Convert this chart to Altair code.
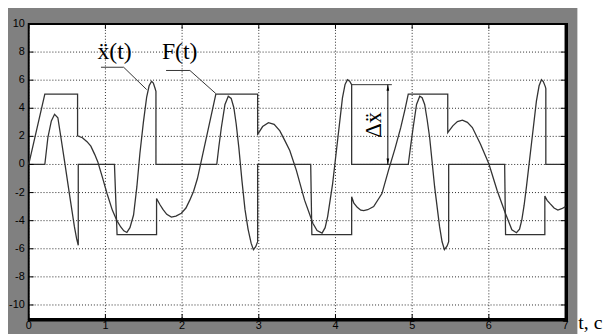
import altair as alt
import pandas as pd

# ---- data (t in s, value) ----
# trace A: starts with the force ramp, plateau, then the response pieces
tA = [0, 0.21, 0.637, 0.637, 0.70, 0.76, 0.81, 0.86, 0.90, 0.96, 1.02, 1.09, 1.15, 1.20, 1.24, 1.28,
      1.32, 1.367, 1.41, 1.45, 1.495, 1.538, 1.57, 1.602, 1.625, 1.646, 1.659, 1.659,
      2.452, 2.48, 2.512, 2.559, 2.602, 2.64, 2.675, 2.705, 2.74, 2.78, 2.82, 2.86, 2.90, 2.93, 2.96, 2.985, 2.985,
      3.677, 3.692, 4.211, 4.211, 4.24, 4.284, 4.33, 4.369, 4.42, 4.498, 4.606, 4.691, 4.777, 4.85, 4.906, 4.949,
      5.464, 5.464, 5.53, 5.59, 5.655, 5.72, 5.785, 5.89, 6.0, 6.107, 6.215, 6.30, 6.36, 6.40, 6.43, 6.46, 6.49,
      6.555, 6.62, 6.655, 6.686, 6.71, 6.735, 6.743, 6.743, 7.0]
vA = [0, 5.0, 5.0, 2.04, 1.90, 1.62, 1.30, 0.72, 0.20, -0.90, -2.05, -3.25, -4.0, -4.45, -4.72, -4.84,
      -4.5, -3.6, -1.6, 0.8, 3.0, 4.8, 5.6, 5.92, 5.8, 5.44, 5.2, 0,
      0, 1.3, 2.63, 4.27, 4.86, 4.7, 4.04, 2.9, 1.2, -1.13, -3.2, -4.6, -5.6, -6.06, -5.85, -5.5, 0,
      0, -5.0, -5.0, -2.30, -2.75, -3.05, -3.25, -3.29, -3.22, -3.0, -2.07, -0.42, 1.15, 2.6, 3.9, 5.0,
      5.0, 2.27, 2.75, 3.05, 3.15, 3.0, 2.63, 1.46, 0.05, -1.83, -3.47, -4.65, -4.86, -4.6, -3.94, -2.9, -1.6,
      1.46, 4.51, 5.6, 6.03, 5.9, 5.56, 5.4, 0, 0]

# trace B
tB = [0, 0.21, 0.25, 0.295, 0.337, 0.38, 0.42, 0.466, 0.53, 0.595, 0.625, 0.646, 0.646,
      1.118, 1.152, 1.667, 1.667, 1.71, 1.75, 1.80, 1.86, 1.92, 1.99, 2.05, 2.10, 2.15, 2.20, 2.32, 2.44,
      2.985, 2.985, 3.0, 3.05, 3.126, 3.20, 3.275, 3.34, 3.404, 3.49, 3.597, 3.705, 3.76, 3.825, 3.865, 3.898,
      3.963, 4.027, 4.091, 4.125, 4.156, 4.185, 4.211, 4.211,
      4.949, 4.98, 5.013, 5.057, 5.099, 5.13, 5.163, 5.195, 5.228, 5.293, 5.357, 5.39, 5.421, 5.456, 5.476, 5.476,
      6.206, 6.218, 6.73, 6.73, 6.76, 6.795, 6.85, 6.90, 6.95, 7.0]
vB = [0, 0, 1.92, 3.1, 3.57, 3.33, 1.92, 0.28, -2.07, -4.41, -5.3, -5.75, 0,
      0, -5.0, -5.0, -2.42, -2.85, -3.2, -3.55, -3.74, -3.68, -3.47, -3.1, -2.54, -1.9, -1.0, 2.0, 5.0,
      5.0, 2.16, 2.27, 2.7, 2.98, 2.85, 2.39, 1.7, 0.99, -0.42, -2.54, -4.18, -4.7, -4.88, -4.5, -3.71,
      -1.36, 1.69, 4.74, 5.7, 6.03, 5.92, 5.68, 0,
      0, 1.3, 2.63, 4.27, 4.86, 4.75, 4.27, 3.2, 1.92, -1.6, -4.41, -5.5, -6.06, -5.8, -5.5, 0,
      0, -5.0, -5.0, -2.25, -2.55, -2.77, -3.1, -3.24, -3.15, -3.0]

# annotation leaders (label underline + pointer)
lead_x_t = [0.942, 1.238, 1.538]
lead_x_v = [6.92, 6.92, 5.33]
lead_f_t = [1.791, 2.102, 2.439]
lead_f_v = [6.69, 6.69, 5.05]
# delta-x annotation
delta_line_t = [4.211, 4.735]
delta_line_v = [5.68, 5.68]
arrow_t = 4.683
arrow_v = [0.0, 5.68]

labels = ["x\u0308(t)", "F(t)"]
labels_t = [1.12, 1.968]
labels_v = [7.5, 7.5]

x_ticks = [0, 1, 2, 3, 4, 5, 6, 7]
y_ticks = [-10, -8, -6, -4, -2, 0, 2, 4, 6, 8, 10]

W, H = 544, 299
LINE = "#333333"

xs = alt.Scale(domain=[0, 7], nice=False, zero=False)
ys = alt.Scale(domain=[-11, 10], nice=False, zero=False)


def df_line(t, v):
    return pd.DataFrame({"t": t, "v": v, "i": list(range(len(t)))})


X = alt.X("t:Q", scale=xs, axis=None)
Y = alt.Y("v:Q", scale=ys, axis=None)
Xn = alt.X("t:Q", axis=None)
Yn = alt.Y("v:Q", axis=None)

yt = pd.DataFrame({"v": y_ticks, "lab": [str(v) for v in y_ticks]})
xt = pd.DataFrame({"t": x_ticks, "lab": [str(v) for v in x_ticks]})

# dotted grid drawn from the tick values through the scales
grid_y = alt.Chart(yt).mark_rule(color="#000", strokeWidth=1, strokeDash=[1, 2], opacity=0.85).encode(
    y=Y, x=alt.value(0), x2=alt.value(W))
grid_x = alt.Chart(xt).mark_rule(color="#000", strokeWidth=1, strokeDash=[1, 2], opacity=0.85).encode(
    x=X, y=alt.value(0), y2=alt.value(H))

traceA = alt.Chart(df_line(tA, vA)).mark_line(color=LINE, strokeWidth=1.3).encode(
    x=Xn, y=Yn, order="i:Q")
traceB = alt.Chart(df_line(tB, vB)).mark_line(color=LINE, strokeWidth=1.3).encode(
    x=Xn, y=Yn, order="i:Q")

leadX = alt.Chart(df_line(lead_x_t, lead_x_v)).mark_line(color=LINE, strokeWidth=1).encode(
    x=Xn, y=Yn, order="i:Q")
leadF = alt.Chart(df_line(lead_f_t, lead_f_v)).mark_line(color=LINE, strokeWidth=1).encode(
    x=Xn, y=Yn, order="i:Q")
dline = alt.Chart(df_line(delta_line_t, delta_line_v)).mark_line(color=LINE, strokeWidth=1).encode(
    x=Xn, y=Yn, order="i:Q")
arrow = alt.Chart(pd.DataFrame({"t": [arrow_t], "v": [arrow_v[0]], "v2": [arrow_v[1]]})).mark_rule(
    color="#000", strokeWidth=1).encode(x=Xn, y=Yn, y2="v2:Q")
head_up = alt.Chart(pd.DataFrame({"t": [arrow_t], "v": [arrow_v[1] - 0.22]})).mark_point(
    shape="M0,-1L0.45,1L-0.45,1Z", filled=True, size=36, color="#000", opacity=1).encode(x=Xn, y=Yn)
head_dn = alt.Chart(pd.DataFrame({"t": [arrow_t], "v": [arrow_v[0] + 0.22]})).mark_point(
    shape="M0,1L0.45,-1L-0.45,-1Z", filled=True, size=36, color="#000", opacity=1).encode(x=Xn, y=Yn)

txt = alt.Chart(pd.DataFrame({"t": labels_t, "v": labels_v, "s": labels})).mark_text(
    font="Liberation Serif", fontSize=24, color="#000", align="center", baseline="alphabetic").encode(
    x=Xn, y=Yn, text="s:N")
dtxt = alt.Chart(pd.DataFrame({"t": [4.507], "v": [2.82], "s": ["\u0394x\u0308"]})).mark_text(
    font="Liberation Serif", fontSize=23, color="#000", align="center", baseline="middle", angle=270).encode(
    x=Xn, y=Yn, text="s:N")

# inward ticks on all four sides
tk_l = alt.Chart(yt).mark_rule(color="#000").encode(y=Yn, x=alt.value(0), x2=alt.value(5))
tk_r = alt.Chart(yt).mark_rule(color="#000").encode(y=Yn, x=alt.value(W - 5), x2=alt.value(W))
tk_b = alt.Chart(xt).mark_rule(color="#000").encode(x=Xn, y=alt.value(H - 5), y2=alt.value(H))
tk_t = alt.Chart(xt).mark_rule(color="#000").encode(x=Xn, y=alt.value(0), y2=alt.value(5))

# tick labels (in the grey frame)
lab_y = alt.Chart(yt).mark_text(font="Liberation Sans", fontSize=11, color="#000", align="right",
                                baseline="middle").encode(y=Yn, x=alt.value(-4), text="lab:N")
lab_x = alt.Chart(xt).mark_text(font="Liberation Sans", fontSize=11, color="#000", align="center",
                                baseline="top").encode(x=Xn, y=alt.value(H + 1), text="lab:N")

one = pd.DataFrame({"a": [0]})
border_r = alt.Chart(one).mark_rule(color="#000", strokeWidth=2).encode(
    x=alt.value(W + 1.5), y=alt.value(-1), y2=alt.value(H + 2.5))
border_b = alt.Chart(one).mark_rule(color="#000", strokeWidth=2).encode(
    y=alt.value(H + 1.5), x=alt.value(-1), x2=alt.value(W + 2.5))
white_r = alt.Chart(one).mark_rect(color="#ffffff", opacity=1).encode(
    x=alt.value(556), x2=alt.value(620), y=alt.value(-30), y2=alt.value(330))
tc = alt.Chart(one).mark_text(font="Liberation Serif", fontSize=20, color="#000", align="left",
                              baseline="alphabetic").encode(
    x=alt.value(557), y=alt.value(309), text=alt.value("t, c"))

chart = alt.layer(
    grid_y, grid_x, traceA, traceB, leadX, leadF, dline, arrow, head_up, head_dn, txt, dtxt,
    tk_l, tk_r, tk_b, tk_t, border_r, border_b, white_r, tc, lab_y, lab_x
).properties(
    width=W, height=H,
    autosize=alt.AutoSizeParams(type="none"),
    padding={"left": 21, "top": 14, "right": 41, "bottom": 13},
    background="#808080",
).configure_view(
    fill="#ffffff", stroke="#000000", strokeWidth=2
)

chart.save("out.html", embed_options={"renderer": "svg", "actions": False})
